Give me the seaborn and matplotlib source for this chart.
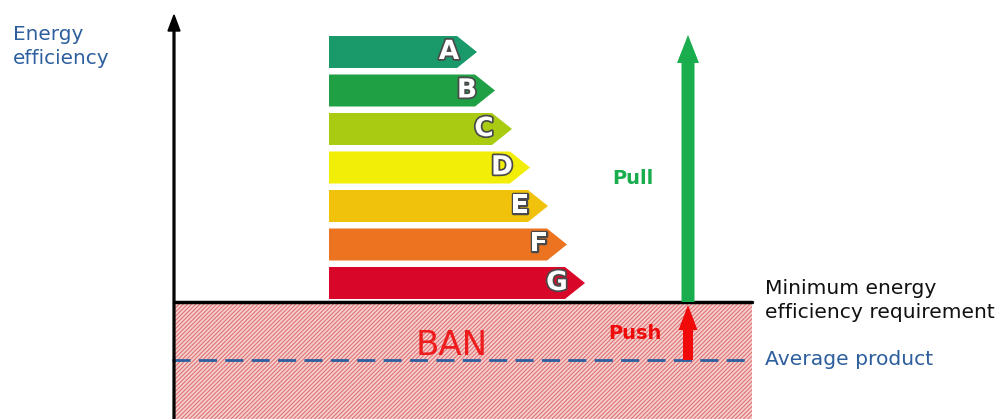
import matplotlib
matplotlib.use("Agg")
import matplotlib.pyplot as plt
import matplotlib.patheffects as pe
from matplotlib.patches import Rectangle
import seaborn as sns

# energy label classes, bar length (tip) and colours
classes = ["A", "B", "C", "D", "E", "F", "G"]
bar_length = [148, 166, 183, 201, 219, 238, 256]
class_colors = ["#1a9a6a", "#20a045", "#a9cc12", "#f2ee08", "#f1c20c", "#ec7420", "#d8072a"]

# efficiency levels (scale: 0 at the bottom of the chart)
min_requirement = 117
average_product = 59
pull_target = 384

labels = {
    "y": "Energy\nefficiency",
    "min": "Minimum energy\nefficiency requirement",
    "avg": "Average product",
    "ban": "BAN",
    "pull": "Pull",
    "push": "Push",
}

sns.set_style("white")
plt.rcParams["font.family"] = ["DejaVu Sans"]
plt.rcParams["hatch.linewidth"] = 0.8
plt.rcParams["lines.scale_dashes"] = False

fig = plt.figure(figsize=(10.01, 4.19), dpi=100)
ax = fig.add_axes([0, 0, 1, 1])
ax.set_xlim(0, 1001)
ax.set_ylim(0, 419)
ax.axis("off")

axis_x = 174
zone_right = 752
blue = "#2d5f9e"

# banned zone
ax.add_patch(Rectangle((axis_x, 0), zone_right - axis_x, min_requirement,
                       facecolor="#f5d0d0", edgecolor="#e07272", linewidth=0,
                       hatch="////////", zorder=1))
ax.plot([axis_x, zone_right], [min_requirement, min_requirement], color="black", lw=2.5, zorder=4)
ax.plot([axis_x - 2, zone_right], [average_product, average_product], color=blue, lw=2,
        dashes=(13, 6), zorder=3)

# y axis arrow
ax.arrow(axis_x, 0, 0, 404, width=1.8, head_width=12, head_length=16,
         length_includes_head=True, color="black", zorder=5)

# energy label
label_left = 329
top = 383
row_step = 38.5
bar_h = 32
for i, (c, L, col) in enumerate(zip(classes, bar_length, class_colors)):
    yt = top - i * row_step
    yb = yt - bar_h
    ym = (yt + yb) / 2
    tip = label_left + L
    body = tip - 20
    ax.fill([label_left, body, tip, body, label_left], [yt, yt, ym, yb, yb],
            color=col, zorder=3, lw=0)
    ax.text(tip - 28, ym, c, color="white", fontsize=19, fontweight="bold",
            ha="center", va="center", zorder=4,
            path_effects=[pe.withStroke(linewidth=2.5, foreground="#4a4a4a")])

# pull / push arrows
arrow_x = 688
ax.arrow(arrow_x, min_requirement, 0, pull_target - min_requirement, width=13,
         head_width=22, head_length=28, length_includes_head=True,
         color="#1aad4e", lw=0, zorder=5)
ax.arrow(arrow_x, average_product, 0, min_requirement - 3 - average_product, width=10,
         head_width=19, head_length=25, length_includes_head=True,
         color="#f00a0a", lw=0, zorder=5)

ax.text(633, 241, labels["pull"], color="#1aad4e", fontsize=14, fontweight="bold",
        ha="center", va="center")
ax.text(635, 86, labels["push"], color="#f00a0a", fontsize=14, fontweight="bold",
        ha="center", va="center")
ax.text(452, 74, labels["ban"], color="#ee1c1c", fontsize=24.5, ha="center", va="center", zorder=6)

ax.text(765, 118.5, labels["min"], color="#111111", fontsize=14.6, ha="left", va="center",
        linespacing=1.3)
ax.text(765, 60, labels["avg"], color=blue, fontsize=14.6, ha="left", va="center")
ax.text(13, 372.5, labels["y"], color=blue, fontsize=14.4, ha="left", va="center",
        linespacing=1.4)

fig.savefig("out.png", dpi=100)
